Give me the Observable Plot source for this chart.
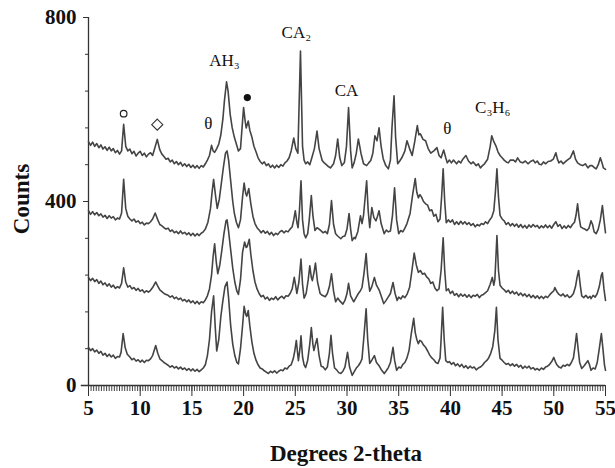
<!DOCTYPE html>
<html>
<head>
<meta charset="utf-8">
<script src="https://cdn.jsdelivr.net/npm/d3@7"></script>
<script src="https://cdn.jsdelivr.net/npm/@observablehq/plot@0.6"></script>
<style>
  html, body { margin: 0; padding: 0; background: #fff; }
  #chart svg { display: block; }
</style>
</head>
<body>
<div id="chart"></div>
<script>
// ---- Data: [2-theta (deg), counts] ----
const trace1 = [
  [5.0,530],[5.2,522],[5.4,529],[5.6,520],[5.8,526],[6.0,517],[6.2,523],[6.4,514],[6.6,519],[6.8,511],[7.0,518],[7.2,510],[7.4,515],[7.6,506],[7.8,511],[8.0,503],[8.2,510],
  [8.4,568],[8.6,520],[8.8,510],[9.0,514],[9.2,504],[9.4,509],[9.6,499],[9.8,505],[10.0,509],[10.2,500],[10.4,505],[10.6,497],[10.8,503],[11.0,506],[11.2,500],[11.4,515],[11.65,535],
  [11.9,512],[12.1,503],[12.3,498],[12.5,492],[12.7,494],[12.9,486],[13.1,490],[13.3,482],[13.5,487],[13.7,480],[13.9,485],[14.1,477],[14.3,482],[14.5,476],[14.7,481],[14.9,474],[15.1,479],[15.3,473],[15.5,478],[15.7,472],[15.9,478],[16.1,475],[16.3,482],[16.5,490],[16.7,500],[16.9,522],[17.05,510],[17.2,507],[17.4,515],[17.6,525],[17.8,545],[18.0,580],[18.15,620],[18.35,660],[18.5,640],[18.7,590],[18.9,560],[19.1,540],[19.3,525],[19.5,510],[19.7,515],[19.85,560],[20.0,604],[20.15,575],[20.25,560],[20.45,575],[20.6,555],[20.8,540],[21.0,520],[21.2,508],[21.4,495],[21.6,487],[21.8,482],
  [22.0,486],[22.2,478],[22.4,482],[22.6,474],[22.8,479],[23.0,473],[23.2,479],[23.4,474],[23.6,480],[23.8,477],[24.0,484],[24.2,488],[24.4,495],[24.6,510],[24.85,538],[25.05,515],[25.25,505],[25.5,727],[25.7,520],[25.85,490],[26.0,482],[26.2,486],[26.4,480],[26.6,495],[26.85,515],[27.1,553],[27.3,515],[27.6,489],[27.8,484],[28.0,480],[28.2,476],[28.4,473],[28.7,482],[28.9,500],[29.1,536],[29.3,495],[29.5,478],[29.75,485],[29.95,520],[30.15,604],[30.35,510],[30.5,473],[30.7,485],[30.9,505],[31.1,536],[31.35,505],[31.6,482],[31.9,478],[32.1,484],[32.3,489],[32.5,505],[32.7,543],[32.9,532],[33.1,560],[33.3,520],[33.5,493],[33.75,478],[34.0,471],[34.2,490],[34.35,560],[34.55,630],[34.7,540],[34.9,482],[35.1,488],[35.3,495],[35.6,510],[35.8,532],[36.05,515],[36.3,500],[36.55,530],[36.8,565],[36.95,545],[37.1,547],[37.35,535],[37.6,532],[37.85,515],[38.1,505],[38.4,510],[38.7,517],[38.9,500],[39.1,495],[39.35,512],[39.55,495],[39.7,484],
  [39.9,490],[40.1,484],[40.3,490],[40.6,482],[40.8,488],[41.0,484],[41.2,492],[41.5,500],[41.75,488],[42.0,482],[42.2,486],[42.5,478],[42.7,482],[42.9,473],[43.1,478],[43.3,482],[43.6,492],[43.85,520],[44.0,543],[44.2,530],[44.4,521],[44.6,508],[44.8,500],[45.0,495],[45.2,490],[45.4,486],[45.6,484],[45.8,490],[46.1,490],[46.3,486],[46.5,495],[46.75,486],[47.0,484],[47.25,488],[47.5,482],[47.75,487],[48.0,490],[48.2,484],[48.4,488],[48.6,481],[48.8,480],[49.0,486],[49.2,482],[49.45,487],[49.7,488],[49.95,492],[50.2,506],[50.35,492],[50.5,484],[50.7,488],[50.9,482],[51.1,486],[51.3,490],[51.6,495],[51.9,510],[52.1,492],[52.3,484],[52.55,480],[52.8,478],[53.05,482],[53.3,473],[53.5,478],[53.7,478],[53.9,474],[54.1,471],[54.3,480],[54.5,495],[54.65,485],[54.8,473],[55.0,470]
];
const trace2 = [
  [5.0,380],[5.2,372],[5.4,378],[5.6,371],[5.8,376],[6.0,369],[6.2,373],[6.4,366],[6.6,370],[6.8,363],[7.0,369],[7.2,364],[7.4,367],[7.6,360],[7.8,364],[8.0,362],[8.2,375],[8.4,448],[8.6,385],[8.8,368],[9.0,362],[9.2,358],[9.4,362],[9.6,355],[9.8,358],[10.0,352],[10.2,355],[10.4,349],[10.6,353],[10.8,352],[11.0,356],[11.2,362],[11.45,375],[11.7,360],[11.9,350],
  [12.1,347],[12.3,343],[12.5,340],[12.7,342],[12.9,335],[13.1,338],[13.3,332],[13.5,335],[13.7,330],[13.9,336],[14.1,330],[14.3,333],[14.5,328],[14.7,332],[14.9,326],[15.1,331],[15.3,325],[15.5,330],[15.7,326],[15.9,331],[16.1,334],[16.3,340],[16.55,355],[16.8,385],[16.95,420],[17.1,448],[17.3,410],[17.45,385],[17.65,405],[17.85,440],[18.05,475],[18.25,505],[18.4,510],[18.55,490],[18.75,445],[18.95,400],[19.1,375],[19.3,355],[19.5,343],[19.7,360],[19.9,410],[20.05,440],[20.2,418],[20.3,412],[20.5,428],[20.7,395],[20.9,368],[21.1,352],[21.3,343],[21.5,338],[21.7,332],
  [21.9,337],[22.1,331],[22.3,335],[22.5,328],[22.7,333],[22.9,326],[23.1,331],[23.3,328],[23.5,334],[23.7,337],[23.9,332],[24.1,336],[24.3,334],[24.5,340],[24.7,345],[24.85,360],[25.0,380],[25.15,355],[25.27,343],[25.4,380],[25.55,445],[25.7,360],[25.85,330],[26.0,321],[26.2,330],[26.35,360],[26.55,413],[26.7,370],[26.9,337],[27.1,343],[27.3,340],[27.5,336],[27.7,332],[27.9,335],[28.1,330],[28.3,350],[28.5,402],[28.7,350],[28.9,330],[29.1,325],[29.4,319],[29.6,324],[29.8,325],[30.0,340],[30.2,374],[30.35,340],[30.5,315],[30.7,322],[30.8,319],[31.05,335],[31.3,369],[31.45,352],[31.6,370],[31.9,445],[32.05,380],[32.2,343],[32.4,387],[32.6,365],[32.8,358],[32.95,368],[33.1,380],[33.3,352],[33.6,330],[33.8,338],[34.0,334],[34.2,336],[34.4,370],[34.6,430],[34.8,360],[35.0,330],[35.2,337],[35.4,334],[35.6,342],[35.8,352],[36.1,374],[36.35,415],[36.6,450],[36.75,420],[36.9,408],[37.05,415],[37.2,410],[37.4,400],[37.6,395],[37.8,392],[38.0,380],[38.2,382],[38.4,368],[38.6,372],[38.8,356],[39.0,362],[39.15,410],[39.3,471],[39.45,400],[39.6,354],
  [39.8,360],[40.0,355],[40.2,360],[40.4,350],[40.6,356],[40.8,350],[41.0,357],[41.2,351],[41.4,356],[41.6,350],[41.8,354],[42.0,348],[42.2,352],[42.4,345],[42.6,350],[42.8,347],[43.0,352],[43.2,350],[43.4,356],[43.6,352],[43.8,360],[44.0,366],[44.2,380],[44.35,420],[44.5,471],[44.65,410],[44.8,370],[45.0,362],[45.2,358],[45.4,350],[45.6,354],[45.8,347],[46.0,352],[46.2,346],[46.4,351],[46.6,344],[46.8,350],[47.0,343],[47.2,348],[47.4,342],[47.6,349],[47.8,344],[48.0,350],[48.2,345],[48.4,348],[48.6,342],[48.8,347],[49.0,343],[49.2,349],[49.4,343],[49.6,348],[49.8,342],[50.0,350],[50.2,356],[50.4,346],[50.6,350],[50.8,341],[51.0,347],[51.2,342],[51.4,348],[51.6,343],[51.8,350],[52.0,355],[52.15,370],[52.3,395],[52.45,365],[52.6,345],[52.8,342],[53.0,340],[53.2,337],[53.4,342],[53.6,358],[53.75,350],[53.9,334],[54.1,330],[54.3,340],[54.5,360],[54.7,391],[54.85,360],[55.0,332]
];
const trace3 = [
  [5.0,235],[5.2,228],[5.4,233],[5.6,226],[5.8,230],[6.0,222],[6.2,227],[6.4,219],[6.6,223],[6.8,216],[7.0,221],[7.2,214],[7.4,218],[7.6,211],[7.8,215],[8.0,212],[8.2,222],[8.4,256],[8.6,225],[8.8,214],[9.0,217],[9.2,210],[9.4,213],[9.6,207],[9.8,211],[10.0,205],[10.2,208],[10.4,202],[10.6,206],[10.8,203],[11.0,207],[11.2,213],[11.5,225],[11.7,216],[11.9,208],
  [12.1,204],[12.3,200],[12.5,198],[12.7,196],[12.9,192],[13.1,195],[13.3,189],[13.5,192],[13.7,187],[13.9,190],[14.1,184],[14.3,187],[14.5,182],[14.7,186],[14.9,180],[15.1,184],[15.3,178],[15.5,183],[15.7,177],[15.9,182],[16.1,180],[16.3,186],[16.5,195],[16.7,210],[16.9,240],[17.05,280],[17.2,308],[17.35,270],[17.5,243],[17.7,262],[17.9,295],[18.1,330],[18.3,358],[18.4,360],[18.55,335],[18.75,295],[18.95,255],[19.15,225],[19.35,205],[19.5,198],[19.7,230],[19.9,290],[20.1,312],[20.25,300],[20.35,302],[20.55,318],[20.7,285],[20.9,250],[21.1,225],[21.3,210],[21.5,200],[21.7,193],
  [21.9,196],[22.1,188],[22.3,192],[22.5,185],[22.7,190],[22.9,187],[23.1,193],[23.3,186],[23.5,191],[23.7,194],[23.9,189],[24.1,195],[24.3,194],[24.5,200],[24.7,210],[24.9,235],[25.05,215],[25.15,200],[25.35,225],[25.55,275],[25.7,220],[25.85,190],[26.05,200],[26.25,230],[26.4,260],[26.55,235],[26.65,228],[26.8,245],[26.95,266],[27.15,225],[27.4,200],[27.6,196],[27.9,193],[28.1,200],[28.3,215],[28.5,243],[28.7,205],[28.9,182],[29.1,190],[29.3,184],[29.6,177],[29.8,185],[30.0,200],[30.15,222],[30.35,195],[30.65,182],[30.85,190],[31.1,200],[31.3,206],[31.45,213],[31.65,245],[31.85,287],[32.0,240],[32.2,205],[32.4,215],[32.65,235],[32.85,218],[33.1,208],[33.3,195],[33.55,178],[33.75,184],[33.95,191],[34.2,200],[34.45,224],[34.65,200],[34.85,185],[35.0,192],[35.2,188],[35.4,195],[35.6,191],[35.8,198],[36.05,213],[36.25,245],[36.5,288],[36.7,262],[36.9,246],[37.1,250],[37.3,242],[37.5,244],[37.7,236],[37.9,232],[38.1,222],[38.3,225],[38.5,212],[38.7,206],[38.9,210],[39.1,250],[39.3,321],[39.45,250],[39.6,206],
  [39.8,210],[40.0,200],[40.2,205],[40.4,196],[40.6,200],[40.8,193],[41.0,199],[41.2,194],[41.4,198],[41.6,192],[41.8,197],[42.0,191],[42.2,196],[42.4,194],[42.6,198],[42.8,191],[43.0,196],[43.2,198],[43.4,202],[43.6,206],[43.85,220],[44.05,235],[44.2,218],[44.3,230],[44.5,326],[44.65,250],[44.8,218],[45.0,212],[45.2,208],[45.4,203],[45.6,207],[45.8,200],[46.0,205],[46.2,199],[46.4,203],[46.6,196],[46.8,201],[47.0,195],[47.2,199],[47.4,193],[47.6,198],[47.8,191],[48.0,196],[48.2,190],[48.4,195],[48.6,189],[48.8,194],[49.0,189],[49.2,194],[49.4,191],[49.6,197],[49.8,202],[50.0,206],[50.1,213],[50.3,204],[50.5,198],[50.7,195],[50.9,199],[51.1,193],[51.3,197],[51.5,191],[51.7,194],[51.9,200],[52.1,215],[52.25,235],[52.4,250],[52.55,220],[52.7,195],[52.9,191],[53.1,196],[53.3,190],[53.5,194],[53.6,189],[53.8,196],[54.0,192],[54.2,200],[54.4,215],[54.6,240],[54.7,245],[54.85,210],[55.0,185]
];
const trace4 = [
  [5.0,83],[5.2,76],[5.4,80],[5.6,73],[5.8,77],[6.0,70],[6.2,74],[6.4,66],[6.6,70],[6.8,63],[7.0,68],[7.2,62],[7.4,66],[7.6,59],[7.8,63],[8.0,62],[8.15,72],[8.35,113],[8.55,82],[8.75,68],[9.0,62],[9.2,56],[9.4,59],[9.6,53],[9.8,56],[10.0,51],[10.2,55],[10.4,50],[10.6,55],[10.8,54],[11.0,58],[11.2,65],[11.5,87],[11.7,70],[11.9,58],
  [12.1,54],[12.3,50],[12.5,47],[12.7,44],[12.9,40],[13.1,43],[13.3,38],[13.5,41],[13.7,36],[13.9,40],[14.1,35],[14.3,38],[14.5,33],[14.7,37],[14.9,32],[15.1,36],[15.3,31],[15.5,35],[15.7,30],[15.9,34],[16.1,38],[16.3,45],[16.5,65],[16.7,100],[16.9,160],[17.1,195],[17.25,130],[17.4,75],[17.6,100],[17.8,150],[18.0,185],[18.2,215],[18.4,225],[18.55,190],[18.75,130],[18.95,90],[19.15,65],[19.35,50],[19.5,47],[19.7,80],[19.9,130],[20.05,172],[20.2,155],[20.3,150],[20.45,163],[20.6,130],[20.8,95],[21.0,70],[21.2,55],[21.4,45],[21.6,38],[21.8,36],
  [22.0,32],[22.2,29],[22.4,26],[22.6,31],[22.8,28],[23.0,32],[23.2,27],[23.4,31],[23.6,34],[23.8,32],[24.0,38],[24.2,36],[24.4,42],[24.6,45],[24.8,58],[24.95,75],[25.1,98],[25.2,75],[25.3,54],[25.45,80],[25.55,108],[25.7,62],[25.85,45],[26.0,39],[26.2,55],[26.4,90],[26.55,126],[26.7,90],[26.8,76],[26.95,90],[27.1,102],[27.3,65],[27.5,42],[27.7,40],[27.9,34],[28.1,40],[28.3,70],[28.45,109],[28.6,70],[28.8,38],[29.0,34],[29.2,28],[29.4,26],[29.6,31],[29.8,40],[30.05,72],[30.25,40],[30.5,22],[30.7,30],[30.9,38],[31.1,43],[31.3,50],[31.45,58],[31.65,110],[31.85,167],[32.0,100],[32.2,48],[32.4,55],[32.65,65],[32.85,50],[33.1,43],[33.3,35],[33.6,26],[33.8,32],[34.0,39],[34.2,50],[34.45,83],[34.6,55],[34.8,33],[35.0,40],[35.2,38],[35.4,46],[35.6,50],[35.8,60],[36.0,76],[36.2,110],[36.45,146],[36.6,115],[36.75,100],[36.9,91],[37.05,98],[37.2,96],[37.4,88],[37.6,83],[37.8,75],[38.0,66],[38.2,60],[38.4,56],[38.6,50],[38.8,48],[39.0,60],[39.1,100],[39.25,170],[39.4,100],[39.55,54],
  [39.75,50],[39.9,52],[40.1,46],[40.3,50],[40.5,43],[40.7,47],[40.9,41],[41.1,46],[41.3,39],[41.5,43],[41.7,37],[41.9,42],[42.1,38],[42.3,40],[42.5,34],[42.7,38],[42.9,40],[43.1,44],[43.3,50],[43.5,54],[43.7,60],[43.9,70],[44.1,85],[44.3,120],[44.45,170],[44.6,100],[44.8,59],[45.0,55],[45.2,50],[45.4,46],[45.6,48],[45.8,43],[46.0,47],[46.2,42],[46.4,46],[46.6,40],[46.8,44],[47.0,37],[47.2,42],[47.4,38],[47.6,42],[47.8,36],[48.0,39],[48.2,34],[48.4,37],[48.6,33],[48.8,38],[49.0,35],[49.2,40],[49.4,42],[49.6,46],[49.8,52],[50.0,61],[50.15,52],[50.3,45],[50.5,40],[50.7,38],[50.9,44],[51.1,42],[51.3,46],[51.5,43],[51.7,50],[51.9,60],[52.05,85],[52.2,113],[52.35,80],[52.5,50],[52.7,37],[52.9,42],[53.1,48],[53.3,54],[53.45,45],[53.6,33],[53.8,38],[54.0,36],[54.2,50],[54.4,80],[54.6,113],[54.75,80],[54.9,45],[55.0,33]
];

// Axis tick values
const xMajorTicks = [5, 10, 15, 20, 25, 30, 35, 40, 45, 50, 55];
const xMinorTicks = d3.range(5, 55.001, 0.25);
const yMajorTicks = [0, 400, 800];
const yMinorTicks = [0, 80, 160, 240, 320, 400, 480, 560, 640, 720, 800];

// Phase annotations
const phaseLabels = [
  {text: "θ", x: 16.6, y: 569},
  {text: "AH₃", x: 18.15, y: 706},
  {text: "CA₂", x: 25.1, y: 767},
  {text: "CA", x: 29.95, y: 641},
  {text: "θ", x: 39.7, y: 558},
  {text: "C₃H₆", x: 44.1, y: 604}
];
const openCircle = [{x: 8.4, y: 591}];
const openDiamond = [{x: 11.65, y: 567}];
const filledDot = [{x: 20.36, y: 626}];

const rows = [];
[trace1, trace2, trace3, trace4].forEach((t, i) => {
  t.forEach(([x, y]) => rows.push({series: "s" + (i + 1), x, y}));
});

const serif = "'Liberation Serif', 'Times New Roman', serif";

const chart = Plot.plot({
  width: 615,
  height: 468,
  marginLeft: 88,
  marginRight: 10,
  marginTop: 17,
  marginBottom: 83,
  style: {fontFamily: serif, background: "#fff", color: "#111"},
  x: {domain: [5, 55]},
  y: {domain: [0, 800]},
  marks: [
    Plot.axisY({ticks: yMinorTicks, tickSize: 3, tickFormat: () => "", label: null, stroke: "#333"}),
    Plot.axisY({ticks: yMajorTicks, tickSize: 5, tickPadding: 7, fontSize: 21, fontWeight: "bold", label: null, stroke: "#333"}),
    Plot.axisX({ticks: xMinorTicks, tickSize: 6, tickFormat: () => "", label: null, stroke: "#444", strokeWidth: 1}),
    Plot.axisX({ticks: xMajorTicks, tickSize: 11, tickPadding: 4, fontSize: 21, fontWeight: "bold", label: null, stroke: "#333"}),
    Plot.ruleX([5], {y1: 0, y2: 800, stroke: "#333", strokeWidth: 1.3}),
    Plot.ruleY([0], {x1: 4.3, x2: 55, stroke: "#333", strokeWidth: 1.6}),
    Plot.line(rows, {x: "x", y: "y", z: "series", stroke: "#444", strokeWidth: 1.6, strokeLinejoin: "round"}),
    Plot.text(phaseLabels, {x: "x", y: "y", text: "text", fontSize: 17, fill: "#111"}),
    Plot.dot(openCircle, {x: "x", y: "y", r: 3.3, stroke: "#222", fill: "white", strokeWidth: 1.2}),
    Plot.dot(openDiamond, {x: "x", y: "y", r: 5, symbol: "diamond2", stroke: "#333", fill: "white", strokeWidth: 1.1}),
    Plot.dot(filledDot, {x: "x", y: "y", r: 3.6, fill: "#111", stroke: "none"})
  ]
});

// Axis titles
const svg = d3.select(chart);
svg.append("text")
  .attr("transform", "translate(24,199) rotate(-90)")
  .attr("text-anchor", "middle")
  .attr("dominant-baseline", "middle")
  .attr("font-family", serif)
  .attr("font-weight", "bold")
  .attr("font-size", 23)
  .attr("fill", "#111")
  .text("Counts");
svg.append("text")
  .attr("x", 346)
  .attr("y", 456)
  .attr("text-anchor", "middle")
  .attr("dominant-baseline", "middle")
  .attr("font-family", serif)
  .attr("font-weight", "bold")
  .attr("font-size", 23)
  .attr("fill", "#111")
  .text("Degrees 2-theta");

document.getElementById("chart").appendChild(chart);
</script>
</body>
</html>
